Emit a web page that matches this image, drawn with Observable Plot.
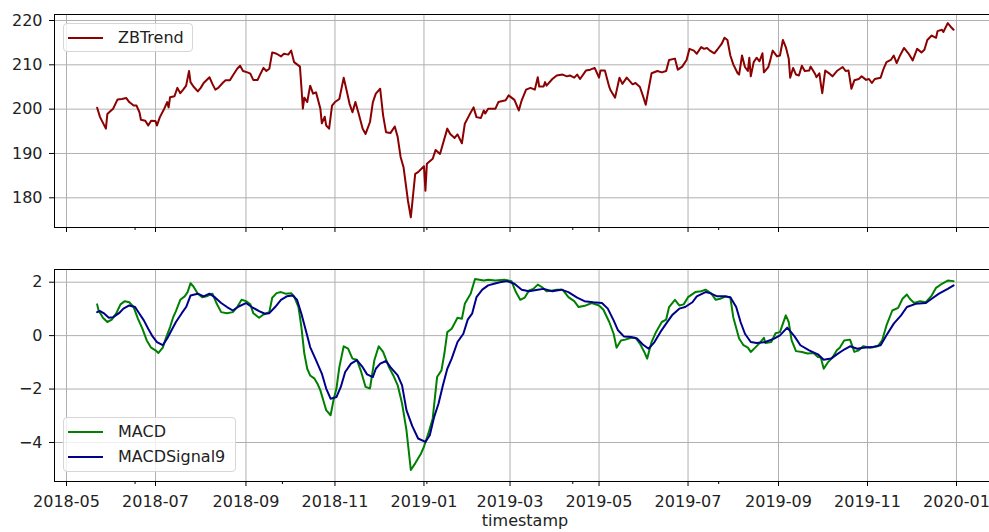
<!DOCTYPE html>
<html>
<head>
<meta charset="utf-8">
<script src="https://cdn.jsdelivr.net/npm/d3@7"></script>
<script src="https://cdn.jsdelivr.net/npm/@observablehq/plot@0.6"></script>
<style>
html, body { margin: 0; padding: 0; background: #fff; overflow: hidden; }
#fig { position: relative; width: 989px; height: 532px; font-family: "DejaVu Sans", sans-serif; overflow: hidden; }
#fig svg { position: absolute; left: 0; overflow: hidden; }
.legend { position: absolute; background: rgba(255,255,255,0.8); border: 1px solid #d6d6d6; border-radius: 4px; box-sizing: border-box; }
.item { position: absolute; left: 0; height: 20px; }
.item .swatch { position: absolute; left: 4px; width: 35px; height: 2px; top: 9px; }
.item .lab { position: absolute; left: 54px; top: 0; font-size: 16px; line-height: 20px; color: #222; white-space: nowrap; }
</style>
</head>
<body>
<div id="fig"></div>
<script>
// ---- data (day offsets from 2018-05-01) ----
const zbDays = [21,23,27,28,30,32,35,38,41,43,46,48,50,51,54,56,58,61,62,64,67,69,70,71,74,76,78,80,82,84,85,87,90,92,94,98,100,102,104,107,109,112,114,117,119,121,124,126,128,131,133,135,137,139,141,144,147,149,152,154,156,158,160,161,162,163,165,167,169,171,172,174,175,177,178,180,182,184,187,190,192,194,196,198,200,203,205,208,210,212,215,217,219,222,225,227,229,231,234,236,239,241,245,246,247,251,253,256,261,263,266,268,271,273,276,279,281,284,286,287,289,294,296,301,303,307,310,312,315,318,321,323,324,327,328,329,333,336,340,343,345,348,350,352,356,359,362,365,366,369,372,373,376,379,381,384,388,390,393,395,397,399,401,405,408,411,413,417,419,422,425,427,430,432,435,437,439,441,444,446,449,451,453,455,457,460,461,463,465,467,468,469,471,473,475,477,478,481,482,484,487,489,491,493,495,496,498,500,502,504,506,509,510,513,514,516,517,518,520,523,525,528,532,534,536,538,540,543,545,548,550,552,554,558,560,562,565,567,569,571,574,577,580,583,586,588,590,593,596,597,600,601,604,606,608];
const zbValues = [200.3,198.2,195.6,198.9,199.5,200.1,202.2,202.3,202.5,201.6,200.8,200.8,199.3,197.6,197.4,196.3,197.4,197.3,196.3,198.2,200.1,201.6,200.4,202.7,202.9,204.8,203.6,204.4,205.3,208.6,206.1,205.1,204.0,204.8,205.9,207.2,205.7,204.4,204.8,205.9,206.5,206.5,207.6,209.1,209.8,208.6,208.3,208.0,206.6,206.6,208.0,209.3,208.6,209.1,212.8,212.5,211.9,212.5,212.3,213.2,210.6,210.1,209.6,205.0,200.1,202.6,201.6,205.3,203.5,203.8,202.6,200.1,196.8,198.3,196.3,195.6,200.8,201.6,202.3,207.1,204.2,201.2,199.3,201.6,199.3,195.6,194.4,197.1,201.6,203.5,204.6,198.6,194.8,194.6,196.1,193.7,189.2,186.9,179.4,175.6,185.4,185.8,187.1,181.6,187.7,188.8,190.8,189.9,195.6,194.4,193.5,194.3,192.3,196.7,198.6,200.4,198.2,198.0,199.7,199.0,200.1,200.1,201.6,202.0,203.1,202.1,199.7,202.0,204.4,204.8,204.4,207.2,205.1,205.1,206.1,205.3,206.8,207.6,207.8,207.4,207.6,207.1,207.8,206.8,208.7,208.9,209.3,207.1,208.7,208.7,205.0,204.2,202.6,207.1,205.7,207.1,205.6,205.9,205.0,203.1,201.0,204.6,208.1,208.6,208.3,208.6,211.1,211.4,208.9,209.6,211.1,213.6,213.2,212.5,214.0,213.6,213.8,213.2,212.6,213.4,214.7,216.1,215.6,212.1,210.1,208.1,207.8,212.1,209.5,208.6,211.6,207.4,210.6,211.6,210.8,212.6,208.3,209.5,210.6,213.2,211.9,212.1,215.6,214.0,211.4,207.1,209.3,207.8,207.6,209.8,208.6,208.7,209.6,208.0,207.2,208.1,205.7,203.6,208.7,208.0,207.4,208.6,209.5,208.6,208.7,204.6,206.5,206.8,207.4,206.6,206.8,205.9,206.8,207.1,209.1,210.6,211.1,212.1,210.4,211.9,213.8,212.6,211.0,213.6,212.8,213.4,215.6,216.6,216.1,217.6,217.9,217.4,219.4,218.6,217.9];

const macdDays = [21,22,25,28,31,34,37,40,43,46,49,52,55,58,61,63,66,68,71,73,75,78,81,83,85,87,90,93,96,100,103,106,110,114,117,120,123,126,128,132,135,139,141,144,147,150,154,156,159,161,163,165,167,170,172,174,176,178,181,183,185,187,190,193,196,199,202,205,208,211,214,217,221,224,227,230,233,236,239,243,245,248,251,254,257,259,261,264,268,271,273,277,280,283,286,289,294,300,305,308,311,314,317,320,323,326,329,333,336,340,344,348,351,356,360,365,368,372,375,377,380,383,387,390,393,396,398,401,404,408,411,413,417,420,423,426,431,435,438,442,445,448,452,455,457,461,464,467,469,472,475,478,479,483,486,489,493,495,497,500,504,508,512,515,517,519,522,525,528,530,533,537,540,543,546,551,556,559,562,566,570,573,576,578,581,585,589,593,596,600,604,608];
const macdValues = [1.17,0.94,0.67,0.51,0.60,0.82,1.17,1.29,1.25,1.07,0.63,0.26,-0.18,-0.45,-0.55,-0.65,-0.45,-0.11,0.32,0.67,0.92,1.34,1.47,1.63,1.96,1.84,1.57,1.44,1.47,1.57,1.19,0.88,0.84,0.88,1.07,1.34,1.29,1.17,0.84,0.67,0.79,0.88,1.42,1.59,1.63,1.57,1.59,1.47,1.07,0.32,-0.67,-1.24,-1.49,-1.61,-1.80,-2.05,-2.42,-2.79,-2.98,-2.42,-1.98,-1.18,-0.40,-0.49,-0.86,-0.90,-1.36,-1.92,-1.98,-0.92,-0.40,-0.61,-1.18,-1.49,-1.86,-2.54,-3.54,-5.03,-4.78,-4.41,-4.16,-3.66,-3.10,-1.55,-1.30,-0.67,0.13,0.26,0.67,0.63,1.19,1.57,2.12,2.09,2.06,2.09,2.06,2.09,2.04,1.63,1.34,1.42,1.69,1.75,1.91,1.81,1.66,1.69,1.72,1.72,1.44,1.29,1.07,1.13,1.22,1.13,0.97,0.51,0.07,-0.45,-0.18,-0.15,-0.08,-0.08,-0.30,-0.61,-0.86,-0.24,0.13,0.51,0.60,1.07,1.34,1.13,1.17,1.44,1.63,1.66,1.72,1.57,1.34,1.38,1.47,1.42,0.69,-0.11,-0.36,-0.45,-0.61,-0.45,-0.28,-0.08,-0.28,-0.24,0.09,0.13,0.76,0.51,-0.18,-0.58,-0.61,-0.67,-0.65,-0.80,-0.82,-1.24,-0.99,-0.82,-0.55,-0.45,-0.18,-0.15,-0.61,-0.55,-0.40,-0.45,-0.40,-0.18,0.38,0.94,1.04,1.38,1.54,1.38,1.22,1.29,1.25,1.50,1.79,1.94,2.06,2.04];

const signalDays = [21,23,26,29,32,36,39,43,47,50,53,56,59,62,66,69,72,75,79,82,85,90,94,98,102,106,110,114,118,123,127,132,136,139,143,147,151,155,158,161,164,167,171,175,178,181,185,188,191,195,199,203,206,210,212,215,219,222,227,230,233,237,241,246,249,252,255,258,261,264,268,272,275,278,281,285,289,293,297,302,307,312,317,323,327,333,339,344,350,355,361,367,371,375,378,382,387,391,395,399,403,407,411,415,420,424,429,432,438,441,446,451,455,459,462,465,469,473,479,485,489,494,499,503,509,515,519,524,528,533,537,542,546,552,558,562,567,572,576,582,589,593,598,604,608];
const signalValues = [0.88,0.92,0.82,0.67,0.69,0.84,1.01,1.13,1.07,0.82,0.57,0.26,-0.03,-0.24,-0.36,-0.11,0.20,0.51,0.84,1.07,1.50,1.57,1.47,1.57,1.42,1.22,1.07,0.94,1.09,1.22,1.07,0.92,0.82,0.84,1.07,1.34,1.47,1.50,1.34,0.82,0.20,-0.43,-0.92,-1.42,-1.98,-2.36,-2.30,-1.92,-1.36,-1.05,-0.92,-1.18,-1.45,-1.55,-1.24,-1.05,-0.95,-1.18,-1.49,-1.86,-2.79,-3.39,-3.85,-3.98,-3.73,-3.04,-2.54,-1.86,-1.24,-0.86,-0.24,0.07,0.60,0.82,1.44,1.72,1.88,1.94,2.00,2.04,1.94,1.72,1.66,1.72,1.75,1.66,1.72,1.63,1.42,1.29,1.25,1.22,1.01,0.57,0.20,-0.03,-0.05,-0.11,-0.33,-0.49,-0.24,0.13,0.45,0.76,1.01,1.07,1.25,1.47,1.63,1.59,1.47,1.47,1.44,1.07,0.51,0.07,-0.24,-0.28,-0.24,-0.11,0.01,0.30,-0.03,-0.36,-0.55,-0.70,-0.90,-0.86,-0.70,-0.52,-0.40,-0.49,-0.45,-0.43,-0.36,0.01,0.45,0.76,1.07,1.19,1.22,1.38,1.57,1.75,1.88];

const xTickLabels = ["2018-05","2018-07","2018-09","2018-11","2019-01","2019-03","2019-05","2019-07","2019-09","2019-11","2020-01"];
const minorTickDays = [47,148,247,347,447];
const yTicksTop = [180,190,200,210,220];
const yTicksBottom = [-4,-2,0,2];
const seriesNames = ["ZBTrend","MACD","MACDSignal9"];
const seriesColors = ["#8b0000","#008000","#00008b"];

(function () {
  const day0 = Date.UTC(2018, 4, 1);
  const toDate = d => new Date(day0 + d * 86400000);
  const parseMonth = d3.utcParse("%Y-%m");
  const xTicks = xTickLabels.map(parseMonth);
  const minorTicks = minorTickDays.map(toDate);
  const zb = zbDays.map((d, i) => ({date: toDate(d), value: zbValues[i]}));
  const macd = macdDays.map((d, i) => ({date: toDate(d), value: macdValues[i]}));
  const signal = signalDays.map((d, i) => ({date: toDate(d), value: signalValues[i]}));

  const W = 989;
  const xScale = {type: "utc", domain: [xTicks[0], xTicks[xTicks.length - 1]], range: [66, 956], label: null};
  const gridStyle = {stroke: "#b0b0b0", strokeOpacity: 1, strokeWidth: 1};
  const baseStyle = {fontFamily: "DejaVu Sans, sans-serif", fontSize: "16px", color: "#000", background: "transparent", overflow: "hidden"};

  const topPlot = Plot.plot({
    width: W, height: 232,
    marginTop: 14, marginBottom: 5, marginLeft: 54, marginRight: -6,
    style: baseStyle,
    x: xScale,
    y: {domain: [173.3, 221.35], label: null},
    marks: [
      Plot.gridX(xTicks, gridStyle),
      Plot.gridY(yTicksTop, gridStyle),
      Plot.line(zb, {x: "date", y: "value", stroke: seriesColors[0], strokeWidth: 2}),
      Plot.frame({stroke: "#000", strokeWidth: 1}),
      Plot.axisX(xTicks, {tickSize: 5, tickFormat: () => "", label: null}),
      Plot.axisX(minorTicks, {tickSize: 3, tickFormat: () => "", label: null}),
      Plot.axisY(yTicksTop, {tickSize: 5, tickPadding: 7, label: null, fill: "#222"})
    ]
  });
  topPlot.style.top = "0px";

  const bottomPlot = Plot.plot({
    width: W, height: 292,
    marginTop: 29, marginBottom: 51, marginLeft: 54, marginRight: -6,
    style: baseStyle,
    x: xScale,
    y: {domain: [-5.46, 2.475], label: null},
    marks: [
      Plot.gridX(xTicks, gridStyle),
      Plot.gridY(yTicksBottom, gridStyle),
      Plot.line(macd, {x: "date", y: "value", stroke: seriesColors[1], strokeWidth: 2}),
      Plot.line(signal, {x: "date", y: "value", stroke: seriesColors[2], strokeWidth: 2}),
      Plot.frame({stroke: "#000", strokeWidth: 1}),
      Plot.axisX(xTicks, {tickSize: 5, tickPadding: 9, tickFormat: d3.utcFormat("%Y-%m"), label: null, fill: "#222"}),
      Plot.axisX(minorTicks, {tickSize: 3, tickFormat: () => "", label: null}),
      Plot.axisY(yTicksBottom, {tickSize: 5, tickPadding: 7, label: null, fill: "#222", tickFormat: d => d < 0 ? "\u2212" + Math.abs(d) : String(d)}),
      Plot.text(["timestamp"], {frameAnchor: "bottom", lineAnchor: "middle", text: d => d, dy: 39, fill: "#222", fontSize: 16})
    ]
  });
  bottomPlot.style.top = "240px";

  const fig = document.getElementById("fig");
  fig.appendChild(topPlot);
  fig.appendChild(bottomPlot);

  function legend(left, topPx, w, h, idx) {
    const box = document.createElement("div");
    box.className = "legend";
    Object.assign(box.style, {left: left + "px", top: topPx + "px", width: w + "px", height: h + "px"});
    idx.forEach((k, j) => {
      const it = document.createElement("div");
      it.className = "item";
      it.style.top = (4 + j * 25) + "px";
      const sw = document.createElement("div");
      sw.className = "swatch";
      sw.style.background = seriesColors[k];
      const lb = document.createElement("div");
      lb.className = "lab";
      lb.textContent = seriesNames[k];
      it.appendChild(sw); it.appendChild(lb);
      box.appendChild(it);
    });
    fig.appendChild(box);
  }
  legend(63, 23, 130, 29, [0]);
  legend(63, 417, 173, 55, [1, 2]);
})();
</script>
</body>
</html>
